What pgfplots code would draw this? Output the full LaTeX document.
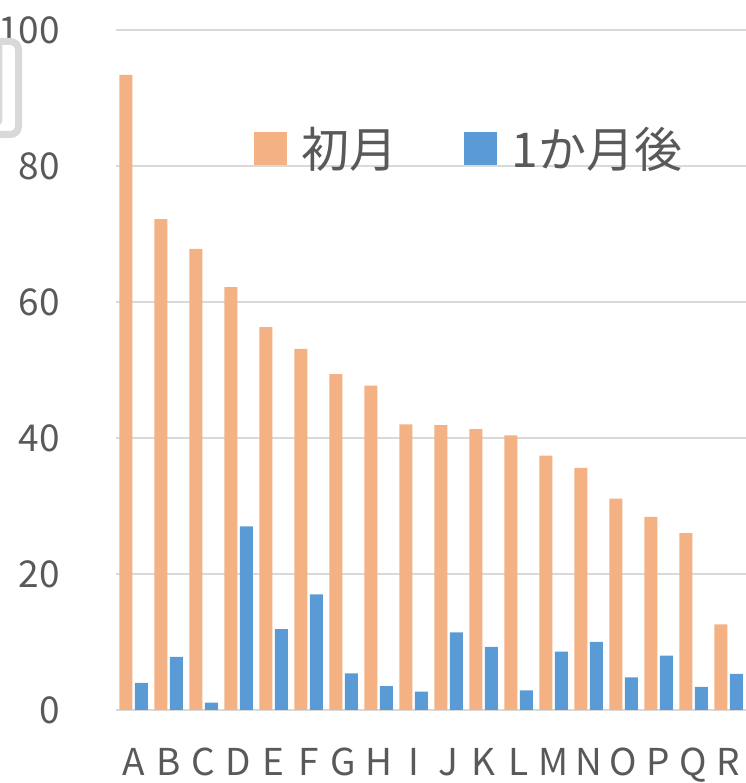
\documentclass[border=0pt]{standalone}
\usepackage{fontspec}
\setmainfont{Noto Sans CJK JP}
\usepackage{pgfplots}
\usepackage{pgfplotstable}
\pgfplotsset{compat=1.18}
\definecolor{cFirst}{HTML}{F4B183}
\definecolor{cLater}{HTML}{5B9BD5}
\definecolor{cText}{HTML}{595959}
\definecolor{cGrid}{HTML}{D9D9D9}

\pgfplotstableread{
idx first later
0  93.4 4.0
1  72.2 7.8
2  67.8 1.1
3  62.2 27.0
4  56.3 11.9
5  53.1 17.0
6  49.4 5.4
7  47.7 3.5
8  42.0 2.7
9  41.9 11.4
10 41.3 9.3
11 40.4 2.9
12 37.4 8.6
13 35.6 10.0
14 31.1 4.8
15 28.4 8.0
16 26.0 3.4
17 12.6 5.3
}\datatbl

\begin{document}
\begin{tikzpicture}
\begin{axis}[
    at={(116bp,73bp)}, anchor=south west,
    scale only axis, width=630bp, height=680bp,
    ybar=2.5bp, bar width=13bp,
    xmin=-0.5, xmax=17.5, ymin=0, ymax=100,
    xtick={0,...,17},
    xticklabels={A,B,C,D,E,F,G,H,I,J,K,L,M,N,O,P,Q,R},
    ytick={0,20,...,100},
    /pgf/number format/assume math mode=true,
    ymajorgrids,
    grid style={draw=cGrid, line width=1.5bp},
    axis line style={draw=none},
    major tick length=0pt,
    tick style={draw=none},
    tick label style={font=\fontsize{37bp}{40bp}\selectfont, text=cText},
    yticklabel style={anchor=east, inner sep=0pt, xshift=-56bp},
    xticklabel style={anchor=base, inner sep=0pt, yshift=-65bp},
    legend columns=2,
    legend style={at={(0.219,0.826)}, anchor=west, draw=none, fill=none,
        inner sep=0pt, outer sep=0pt,
        font=\fontsize{48bp}{52bp}\selectfont, text=cText,
        nodes={inner sep=0pt},
        /tikz/every odd column/.append style={column sep=15bp},
        /tikz/every even column/.append style={column sep=66bp}},
    sq legend/.style={legend image code/.code={\fill[##1] (0bp,-16.5bp) rectangle (33bp,16.5bp);}},
]
\addplot[fill=cFirst, draw=none, sq legend] table[x=idx, y=first] {\datatbl};
\addplot[fill=cLater, draw=none, sq legend] table[x=idx, y=later] {\datatbl};
\legend{初月, 1か月後}
\end{axis}
% cut-off box at the left edge
\draw[cGrid, line width=7bp, rounded corners=8bp] (-40bp,741.5bp) rectangle (18.5bp,648.5bp);
\draw[cGrid, line width=2.5bp, rounded corners=4bp] (-40bp,743bp) rectangle (1bp,658.5bp);
\pgfresetboundingbox
\useasboundingbox (0bp,0bp) rectangle (746bp,783bp);
\end{tikzpicture}
\end{document}
